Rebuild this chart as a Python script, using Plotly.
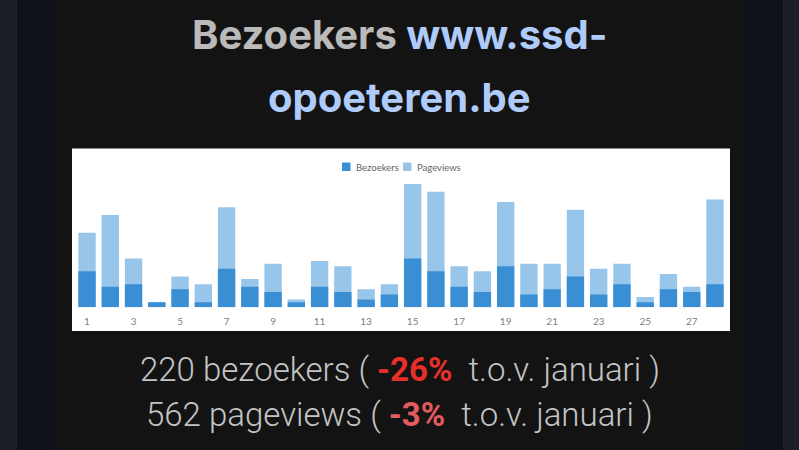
import plotly.graph_objects as go

W, H = 799, 450

days = list(range(1, 29))
bezoekers = [14, 8, 9, 2, 7, 2, 15, 8, 6, 2, 8, 6, 3, 5,
             19, 14, 8, 6, 16, 5, 7, 12, 5, 9, 2, 7, 6, 9]
pageviews = [29, 36, 19, 2, 12, 9, 39, 11, 17, 3, 18, 16, 7, 9,
             48, 45, 16, 14, 41, 17, 17, 38, 15, 17, 4, 13, 8, 42]
tick_days = [1, 3, 5, 7, 9, 11, 13, 15, 17, 19, 21, 23, 25, 27]

DARK_BLUE = "#3a8fd4"
LIGHT_BLUE = "#98c6ea"


def px_x(x):
    return x / W


def px_y(y):
    return 1 - y / H


fig = go.Figure()
fig.add_trace(go.Bar(x=days, y=pageviews, name="Pageviews", marker_color=LIGHT_BLUE,
                     marker_line_width=0))
fig.add_trace(go.Bar(x=days, y=bezoekers, name="Bezoekers", marker_color=DARK_BLUE,
                     marker_line_width=0))

# page background bands + white chart card + hand-drawn compact legend swatches
shapes = [
    dict(type="rect", xref="paper", yref="paper", x0=px_x(17), x1=px_x(783), y0=0, y1=1,
         fillcolor="#0f121a", line_width=0, layer="below"),
    dict(type="rect", xref="paper", yref="paper", x0=px_x(55), x1=px_x(743), y0=0, y1=1,
         fillcolor="#131313", line_width=0, layer="below"),
    dict(type="rect", xref="paper", yref="paper", x0=px_x(72), x1=px_x(730),
         y0=px_y(331), y1=px_y(148.5), fillcolor="#ffffff", line_width=0, layer="below"),
    dict(type="rect", xref="paper", yref="paper", x0=px_x(342), x1=px_x(350.5),
         y0=px_y(171), y1=px_y(162.5), fillcolor=DARK_BLUE, line_width=0),
    dict(type="rect", xref="paper", yref="paper", x0=px_x(403), x1=px_x(411.5),
         y0=px_y(171), y1=px_y(162.5), fillcolor=LIGHT_BLUE, line_width=0),
]

title_font = dict(family="Inter", size=40, color="#aecbfa", weight="bold")
body_font = dict(family="Roboto", size=33, color="#c4c4c4", weight=300)
legend_font = dict(family="Lato", size=9.5, color="#666666")

annotations = [
    dict(text="<span style='color:#bababa'>Bezoekers</span> www.ssd-",
         x=0.5, y=px_y(34), font=title_font),
    dict(text="opoeteren.be", x=0.5, y=px_y(98), font=title_font),
    dict(text="220 bezoekers ( <b><span style='color:#e8302a'>-26%</span></b>  t.o.v. januari )",
         x=0.5, y=px_y(369), font=body_font),
    dict(text="562 pageviews ( <b><span style='color:#e35a5f'>-3%</span></b>  t.o.v. januari )",
         x=0.5, y=px_y(414), font=body_font),
]
for a in annotations:
    a.update(xanchor="center")
annotations += [
    dict(text="Bezoekers", x=px_x(354), y=px_y(167), xanchor="left", font=legend_font),
    dict(text="Pageviews", x=px_x(415), y=px_y(167), xanchor="left", font=legend_font),
]
for a in annotations:
    a.update(xref="paper", yref="paper", yanchor="middle", showarrow=False)

fig.update_layout(
    width=W,
    height=H,
    margin=dict(l=0, r=0, t=0, b=0, pad=0),
    paper_bgcolor="#1c1e28",
    plot_bgcolor="rgba(0,0,0,0)",
    barmode="overlay",
    bargap=0.255,
    showlegend=False,
    shapes=shapes,
    annotations=annotations,
)
fig.update_xaxes(
    domain=[px_x(75.4), px_x(726.6)],
    range=[0.5, 28.5],
    tickvals=tick_days,
    ticktext=[str(d) for d in tick_days],
    tickfont=dict(family="Lato", size=10, color="#808080"),
    ticklabelstandoff=7,
    showgrid=False, zeroline=False, showline=False, ticks="",
)
fig.update_yaxes(
    domain=[px_y(307.3), px_y(166.1)],
    range=[0, 55],
    showgrid=False, zeroline=False, showline=False, showticklabels=False,
)

fig.write_html("out.html", config={"displayModeBar": False},
               post_script="document.body.style.margin='0';")
